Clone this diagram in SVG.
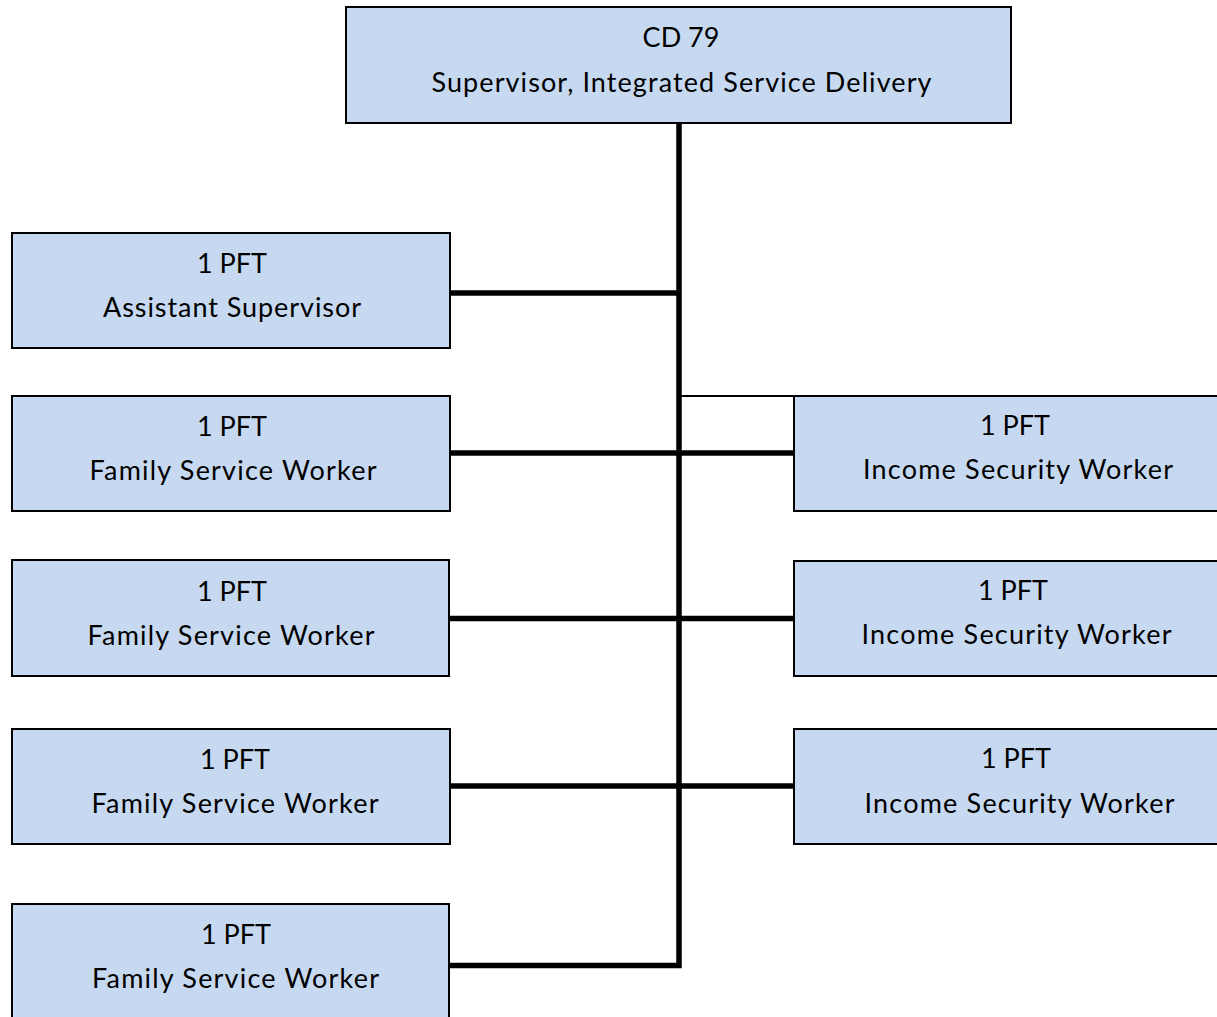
<svg xmlns="http://www.w3.org/2000/svg" width="1217" height="1017" viewBox="0 0 1217 1017">
<style>
.box{fill:#C6D9F1;stroke:#000;stroke-width:2}
.t{font-family:Lato,"Open Sans","Liberation Sans",sans-serif;font-size:27px;fill:#000;text-anchor:middle}
.c{stroke:#000;stroke-width:5.5;fill:none}
.thin{stroke:#000;stroke-width:2;fill:none}
</style>
<rect width="1217" height="1017" fill="#fff"/>
<g id="connectors">
<path class="c" d="M679 123 V965.5 H450"/>
<path class="c" d="M450 293 H679"/>
<path class="c" d="M450 453 H794"/>
<path class="c" d="M450 618.5 H794"/>
<path class="c" d="M450 786 H794"/>
<path class="thin" d="M679 396 H794"/>
</g>
<g id="n-top"><rect class="box" x="346" y="7" width="665" height="116"/><text class="t" x="681" y="47">CD 79</text><text class="t" x="681.5" y="92" textLength="500" lengthAdjust="spacing">Supervisor, Integrated Service Delivery</text></g>
<g id="n-asst"><rect class="box" x="12" y="233" width="438" height="115"/><text class="t" x="232" y="273">1 PFT</text><text class="t" x="232" y="317" textLength="258" lengthAdjust="spacing">Assistant Supervisor</text></g>
<g id="n-fsw1"><rect class="box" x="12" y="396" width="438" height="115"/><text class="t" x="232" y="436">1 PFT</text><text class="t" x="233" y="480" textLength="287" lengthAdjust="spacing">Family Service Worker</text></g>
<g id="n-fsw2"><rect class="box" x="12" y="560" width="437" height="116"/><text class="t" x="232" y="601">1 PFT</text><text class="t" x="231" y="645" textLength="287" lengthAdjust="spacing">Family Service Worker</text></g>
<g id="n-fsw3"><rect class="box" x="12" y="729" width="438" height="115"/><text class="t" x="235" y="769">1 PFT</text><text class="t" x="235" y="813" textLength="287" lengthAdjust="spacing">Family Service Worker</text></g>
<g id="n-fsw4"><rect class="box" x="12" y="904" width="437" height="130"/><text class="t" x="236" y="944">1 PFT</text><text class="t" x="235.5" y="988" textLength="287" lengthAdjust="spacing">Family Service Worker</text></g>
<g id="n-isw1"><rect class="box" x="794" y="396" width="440" height="115"/><text class="t" x="1015" y="435">1 PFT</text><text class="t" x="1018" y="479" textLength="310" lengthAdjust="spacing">Income Security Worker</text></g>
<g id="n-isw2"><rect class="box" x="794" y="561" width="440" height="115"/><text class="t" x="1013" y="600">1 PFT</text><text class="t" x="1016.5" y="644" textLength="310" lengthAdjust="spacing">Income Security Worker</text></g>
<g id="n-isw3"><rect class="box" x="794" y="729" width="440" height="115"/><text class="t" x="1016" y="768">1 PFT</text><text class="t" x="1019.5" y="813" textLength="310" lengthAdjust="spacing">Income Security Worker</text></g>
</svg>
